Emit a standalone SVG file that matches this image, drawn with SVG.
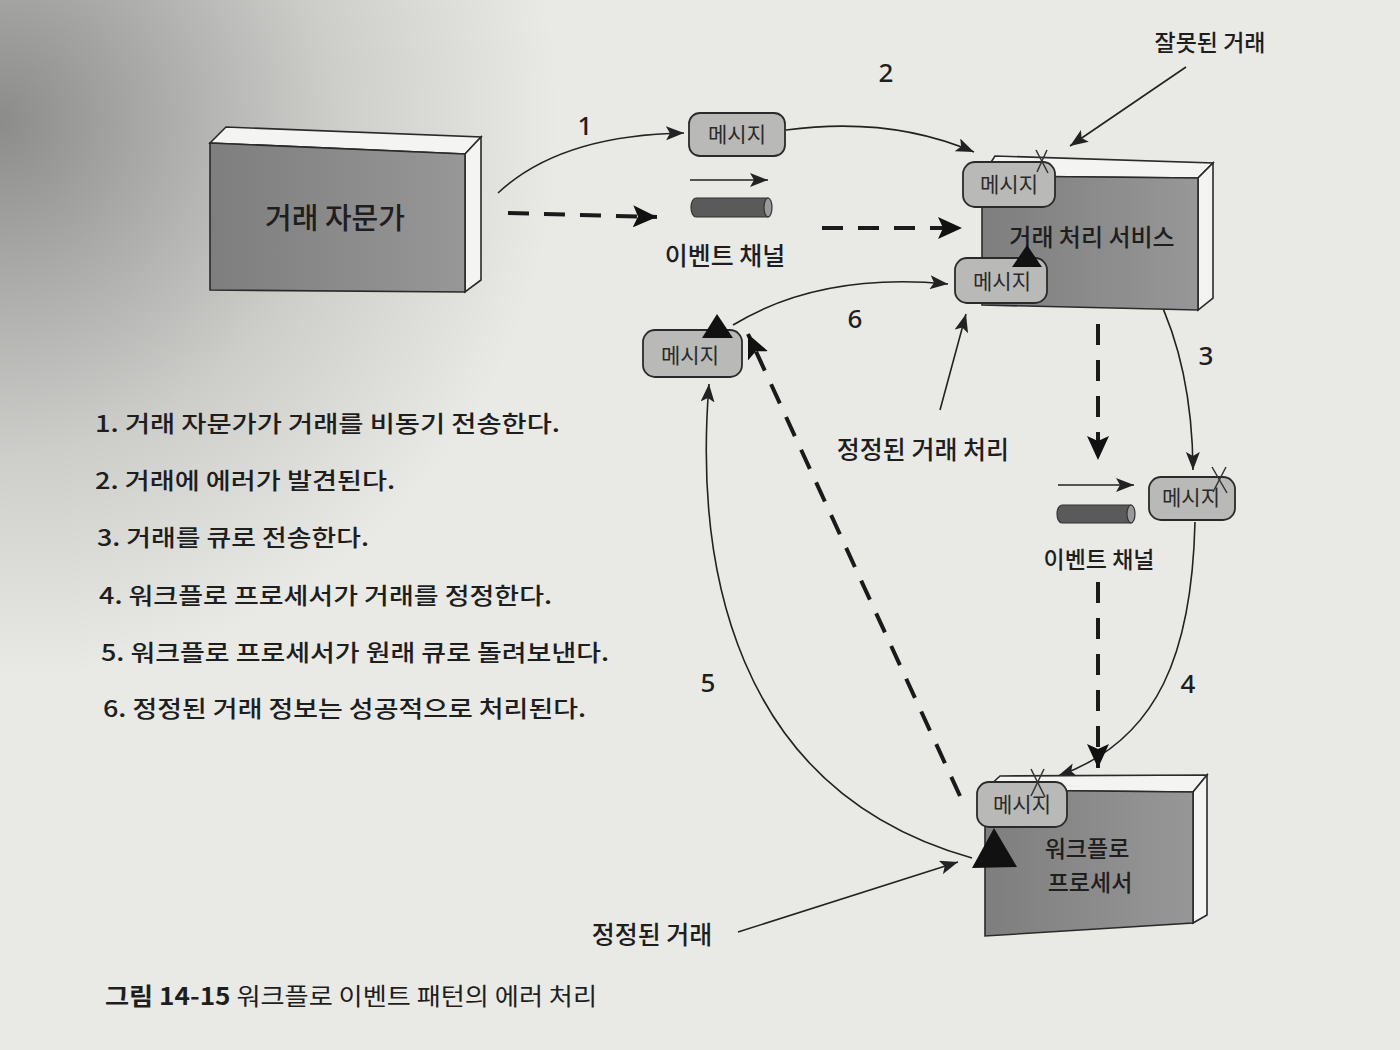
<svg xmlns="http://www.w3.org/2000/svg" width="1400" height="1050" viewBox="0 0 1400 1050">
<defs>
<style>
.t{font-family:"Noto Sans CJK KR","Noto Sans",sans-serif;fill:#1e1e1e;font-weight:500}
.cap{font-family:"Noto Sans CJK KR","Noto Sans",sans-serif;fill:#1e1e1e;font-weight:400}
.capb{font-weight:700}
.num{font-family:"Noto Sans","Liberation Sans",sans-serif;fill:#1e1e1e;font-size:26px;font-weight:500}
.front{fill:url(#boxg);stroke:#2a2a2a;stroke-width:1.6}
.side{fill:#f4f4f2;stroke:#2a2a2a;stroke-width:1.6}
.msg{fill:#b9b9b7;stroke:#2a2a2a;stroke-width:1.8}
.mt{font-family:"Noto Sans CJK KR",sans-serif;font-size:21px;fill:#2a2a2a;text-anchor:middle}
.thin{fill:none;stroke:#222;stroke-width:1.6}
.dash{fill:none;stroke:#1a1a1a;stroke-width:4;stroke-dasharray:21 15}
.xm{stroke:#333;stroke-width:1.5}
.tri{fill:#111}
.cyl{fill:#5a5a5a;stroke:#333;stroke-width:1.2}
.cylend{fill:#9a9a9a;stroke:#333;stroke-width:1.2}
</style>
<linearGradient id="boxg" x1="0" y1="0" x2="1" y2="0">
<stop offset="0" stop-color="#7e7e7e"/>
<stop offset="1" stop-color="#979797"/>
</linearGradient>
<radialGradient id="shade" cx="0" cy="120" r="560" gradientUnits="userSpaceOnUse">
<stop offset="0" stop-color="#000" stop-opacity="0.4"/>
<stop offset="0.6" stop-color="#000" stop-opacity="0.12"/>
<stop offset="1" stop-color="#000" stop-opacity="0"/>
</radialGradient>
<marker id="ah" markerUnits="userSpaceOnUse" markerWidth="20" markerHeight="14" refX="18" refY="7" orient="auto">
<path d="M0,0 L18,7 L0,14 L4,7 Z" fill="#222"/>
</marker>
<marker id="ahb" markerUnits="userSpaceOnUse" markerWidth="26" markerHeight="22" refX="24" refY="11" orient="auto">
<path d="M0,0 L24,11 L0,22 L5,11 Z" fill="#111"/>
</marker>
</defs>
<rect width="1400" height="1050" fill="#e9e9e6"/>
<rect width="1400" height="1050" fill="url(#shade)"/>

<g id="connectors">
<path class="thin" d="M498,193 Q560,135 684,133" marker-end="url(#ah)"/>
<path class="dash" d="M508,213 L657,217" marker-end="url(#ahb)"/>
<path class="thin" d="M786,130 Q890,116 974,152" marker-end="url(#ah)"/>
<path class="dash" d="M822,228 L962,228" marker-end="url(#ahb)"/>
<path class="thin" d="M1186,67 L1070,146" marker-end="url(#ah)"/>
<path class="thin" d="M1055,187 C1140,230 1192,330 1193,470" marker-end="url(#ah)"/>
<path class="dash" d="M1098,324 L1098,460" marker-end="url(#ahb)"/>
<path class="thin" d="M1195,522 C1192,650 1160,740 1058,776" marker-end="url(#ah)"/>
<path class="dash" d="M1098,582 L1098,768" marker-end="url(#ahb)"/>
<path class="thin" d="M733,325 Q820,272 948,284" marker-end="url(#ah)"/>
<path class="thin" d="M940,410 L966,314" marker-end="url(#ah)"/>
<path class="thin" d="M972,858 C730,790 695,560 709,384" marker-end="url(#ah)"/>
<path class="dash" d="M960,796 L748,334" marker-end="url(#ahb)"/>
<path class="thin" d="M738,932 L958,862" marker-end="url(#ah)"/>
</g>

<g id="advisor">
<polygon class="side" points="210,143 226,127 481,137 465,154"/>
<polygon class="side" points="465,154 481,137 481,280 465,292"/>
<polygon class="front" points="210,143 465,154 465,292 210,290"/>
<text class="t" x="335" y="229" font-size="29" text-anchor="middle">거래 자문가</text>
</g>

<g id="event-channel-1">
<rect class="msg" x="689" y="113" width="96" height="43" rx="11"/>
<text class="mt" x="737" y="142">메시지</text>
<path class="thin" d="M690,180 L768,180" marker-end="url(#ah)"/>
<path class="cyl" d="M696,198 H768 V217 H696 A5,9.5 0 0 1 696,198 Z"/>
<ellipse class="cylend" cx="768" cy="207.5" rx="4" ry="9.5"/>
<text class="t" x="725" y="265" font-size="25" text-anchor="middle">이벤트 채널</text>
</g>

<g id="service">
<polygon class="side" points="982,176 995,156 1213,163 1198,178"/>
<polygon class="side" points="1198,178 1213,163 1213,298 1198,310"/>
<polygon class="front" points="982,176 1198,178 1198,310 982,305"/>
<text class="t" x="1092" y="246" font-size="24" text-anchor="middle">거래 처리 서비스</text>
<rect class="msg" x="963" y="162" width="92" height="45" rx="12"/>
<text class="mt" x="1009" y="192">메시지</text>
<line class="xm" x1="1036" y1="150" x2="1048" y2="173"/>
<line class="xm" x1="1047" y1="150" x2="1037" y2="172"/>
<rect class="msg" x="955" y="258" width="92" height="45" rx="12"/>
<text class="mt" x="1002" y="289">메시지</text>
<polygon class="tri" points="1027,245 1012,267 1042,267"/>
</g>

<g id="event-channel-2">
<path class="thin" d="M1058,485 L1134,485" marker-end="url(#ah)"/>
<path class="cyl" d="M1062,505 H1131 V523 H1062 A5,9 0 0 1 1062,505 Z"/>
<ellipse class="cylend" cx="1131" cy="514" rx="4" ry="9"/>
<text class="t" x="1099" y="568" font-size="23" text-anchor="middle">이벤트 채널</text>
<rect class="msg" x="1149" y="477" width="86" height="43" rx="12"/>
<text class="mt" x="1191" y="505" font-size="19">메시지</text>
<line class="xm" x1="1212" y1="467" x2="1227" y2="493"/>
<line class="xm" x1="1226" y1="467" x2="1213" y2="492"/>
</g>

<g id="processor">
<polygon class="side" points="985,790 1000,776 1207,775 1193,792"/>
<polygon class="side" points="1193,792 1207,775 1207,915 1193,923"/>
<polygon class="front" points="985,790 1193,792 1193,923 985,936"/>
<text class="t" x="1087" y="857" font-size="23" text-anchor="middle">워크플로</text>
<text class="t" x="1090" y="891" font-size="23" text-anchor="middle">프로세서</text>
<rect class="msg" x="977" y="782" width="90" height="45" rx="12"/>
<text class="mt" x="1022" y="812">메시지</text>
<line class="xm" x1="1031" y1="769" x2="1045" y2="797"/>
<line class="xm" x1="1044" y1="769" x2="1031" y2="796"/>
<polygon class="tri" points="994,828 972,868 1017,867"/>
</g>

<g id="message-left">
<rect class="msg" x="643" y="330" width="99" height="47" rx="12"/>
<text class="mt" x="690" y="363" font-size="22">메시지</text>
<polygon class="tri" points="717,314 702,338 733,338"/>
</g>

<g id="labels">
<text class="num" x="585" y="135" text-anchor="middle">1</text>
<text class="num" x="886" y="82" text-anchor="middle">2</text>
<text class="num" x="1206" y="365" text-anchor="middle">3</text>
<text class="num" x="1188" y="693" text-anchor="middle">4</text>
<text class="num" x="708" y="692" text-anchor="middle">5</text>
<text class="num" x="855" y="328" text-anchor="middle">6</text>
<text class="t" x="1210" y="51" font-size="23" text-anchor="middle">잘못된 거래</text>
<text class="t" x="923" y="459" font-size="25" text-anchor="middle">정정된 거래 처리</text>
<text class="t" x="652" y="944" font-size="25" text-anchor="middle">정정된 거래</text>
</g>

<g id="steps">
<text class="t" x="95" y="432" font-size="23" textLength="465" lengthAdjust="spacingAndGlyphs">1. 거래 자문가가 거래를 비동기 전송한다.</text>
<text class="t" x="95" y="489" font-size="23" textLength="300" lengthAdjust="spacingAndGlyphs">2. 거래에 에러가 발견된다.</text>
<text class="t" x="97" y="546" font-size="23" textLength="272" lengthAdjust="spacingAndGlyphs">3. 거래를 큐로 전송한다.</text>
<text class="t" x="99" y="604" font-size="23" textLength="453" lengthAdjust="spacingAndGlyphs">4. 워크플로 프로세서가 거래를 정정한다.</text>
<text class="t" x="101" y="661" font-size="23" textLength="508" lengthAdjust="spacingAndGlyphs">5. 워크플로 프로세서가 원래 큐로 돌려보낸다.</text>
<text class="t" x="103" y="717" font-size="23" textLength="483" lengthAdjust="spacingAndGlyphs">6. 정정된 거래 정보는 성공적으로 처리된다.</text>
</g>

<g id="caption">
<text class="cap" x="105" y="1005" font-size="24" textLength="492" lengthAdjust="spacingAndGlyphs"><tspan class="capb">그림 14-15</tspan> 워크플로 이벤트 패턴의 에러 처리</text>
</g>
</svg>
